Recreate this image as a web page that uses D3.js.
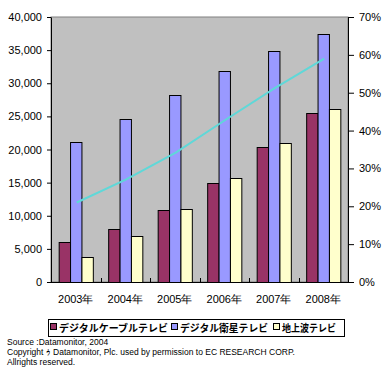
<!DOCTYPE html>
<html>
<head>
<meta charset="utf-8">
<script src="https://cdn.jsdelivr.net/npm/d3@7"></script>
<style>
  body { margin: 0; background: #fff; }
  .axis text { font-family: 'Liberation Sans', Arial, sans-serif; font-size: 11px; fill: #000; }
  .axis path, .axis line { stroke: #000; }
  .legend text { font-family: 'Noto Sans CJK JP', sans-serif; font-size: 10px; font-weight: 600; }
  .source { font-family: 'Liberation Sans', Arial, sans-serif; font-size: 8.5px; fill: #000; }
</style>
</head>
<body>
<div id="chart"></div>
<script>
// data
const years = ['2003年', '2004年', '2005年', '2006年', '2007年', '2008年'];
const seriesNames = ['デジタルケーブルテレビ', 'デジタル衛星テレビ', '地上波テレビ'];
const cable = [6000, 8000, 10900, 15000, 20400, 25500];
const satellite = [21100, 24600, 28200, 31800, 34800, 37400];
const terrestrial = [3800, 7000, 11000, 15700, 21000, 26100];
const share = [0.21, 0.271, 0.342, 0.428, 0.512, 0.59];
const leftTicks = [0, 5000, 10000, 15000, 20000, 25000, 30000, 35000, 40000];
const rightTicks = [0, 0.1, 0.2, 0.3, 0.4, 0.5, 0.6, 0.7];
const sourceLines = [
  'Source :Datamonitor, 2004',
  'Copyright ｩ Datamonitor, Plc. used by permission to EC RESEARCH CORP.',
  'Allrights reserved.'
];

const colors = ['#993366', '#9999ff', '#ffffcc'];
const lineColor = '#5fd8d8';

// chart setup
let margin = { top: 17, right: 42, bottom: 92, left: 51 };
let totalWidth = 390, totalHeight = 374;
let width = totalWidth - margin.left - margin.right;
let height = totalHeight - margin.top - margin.bottom;

let svg = d3.select('#chart').append('svg')
  .attr('width', totalWidth)
  .attr('height', totalHeight);

let group = svg.append('g').attr('transform', `translate(${margin.left}, ${margin.top})`);

let x0 = d3.scaleBand().domain(years).range([0, width]).paddingInner(0.31).paddingOuter(0.155);
let x1 = d3.scaleBand().domain(seriesNames).range([0, x0.bandwidth()]);
let y = d3.scaleLinear().domain([0, 40000]).range([height, 0]);
let yR = d3.scaleLinear().domain([0, 0.7]).range([height, 0]);

// plot area
group.append('rect')
  .attr('width', width)
  .attr('height', height)
  .attr('fill', '#c0c0c0')
  .attr('stroke', '#808080');

// bars
const seriesData = [cable, satellite, terrestrial];
seriesData.forEach((vals, s) => {
  group.selectAll('.bar-' + s)
    .data(vals)
    .enter()
    .append('rect')
    .attr('class', 'bar-' + s)
    .attr('x', (d, i) => x0(years[i]) + x1(seriesNames[s]) + 0.5)
    .attr('y', d => Math.round(y(d)) + 0.5)
    .attr('width', x1.bandwidth())
    .attr('height', d => height - Math.round(y(d)))
    .attr('fill', colors[s])
    .attr('stroke', '#000')
    .attr('stroke-width', 1);
});

// share line
const line = d3.line()
  .x((d, i) => x0(years[i]) + x0.bandwidth() / 2 + 1)
  .y(d => yR(d));

group.append('path')
  .datum(share)
  .attr('fill', 'none')
  .attr('stroke', lineColor)
  .attr('stroke-width', 2)
  .attr('d', line);

// axes
group.append('g')
  .attr('class', 'axis')
  .call(d3.axisLeft(y).tickValues(leftTicks).tickFormat(d3.format(',')).tickSize(4).tickPadding(5).tickSizeOuter(0));

group.append('g')
  .attr('class', 'axis')
  .attr('transform', `translate(${width}, 0)`)
  .call(d3.axisRight(yR).tickValues(rightTicks).tickFormat(d3.format('.0%')).tickSize(6).tickPadding(5).tickSizeOuter(0));

group.append('g')
  .attr('class', 'axis')
  .attr('transform', `translate(0, ${height})`)
  .call(d3.axisBottom(x0).tickSize(0).tickPadding(13))
  .call(g => g.select('.domain').attr('d', `M0,0.5H${width}`));

// category boundary ticks
const step = x0.step();
group.selectAll('.cat-tick')
  .data(d3.range(1, years.length))
  .enter()
  .append('line')
  .attr('class', 'cat-tick')
  .attr('x1', d => Math.round(d * step) + 0.5)
  .attr('x2', d => Math.round(d * step) + 0.5)
  .attr('y1', height - 4)
  .attr('y2', height)
  .attr('stroke', '#000');

// legend
const legend = svg.append('g').attr('class', 'legend');
legend.append('rect')
  .attr('x', 48.5)
  .attr('y', 319.5)
  .attr('width', 296)
  .attr('height', 17)
  .attr('fill', '#fff')
  .attr('stroke', '#000');

const legendX = [50, 171, 273];
const legendTextW = [109, 88, 54];
seriesNames.forEach((name, i) => {
  legend.append('rect')
    .attr('x', legendX[i] + 0.5)
    .attr('y', 323.5)
    .attr('width', 6)
    .attr('height', 6)
    .attr('fill', colors[i])
    .attr('stroke', '#000');
  legend.append('text')
    .attr('x', legendX[i] + 9)
    .attr('y', 331.5)
    .attr('textLength', legendTextW[i])
    .attr('lengthAdjust', 'spacingAndGlyphs')
    .text(name);
});

// source notes
svg.selectAll('.source')
  .data(sourceLines)
  .enter()
  .append('text')
  .attr('class', 'source')
  .attr('x', 7)
  .attr('y', (d, i) => 345 + i * 10)
  .text(d => d);
</script>
</body>
</html>
